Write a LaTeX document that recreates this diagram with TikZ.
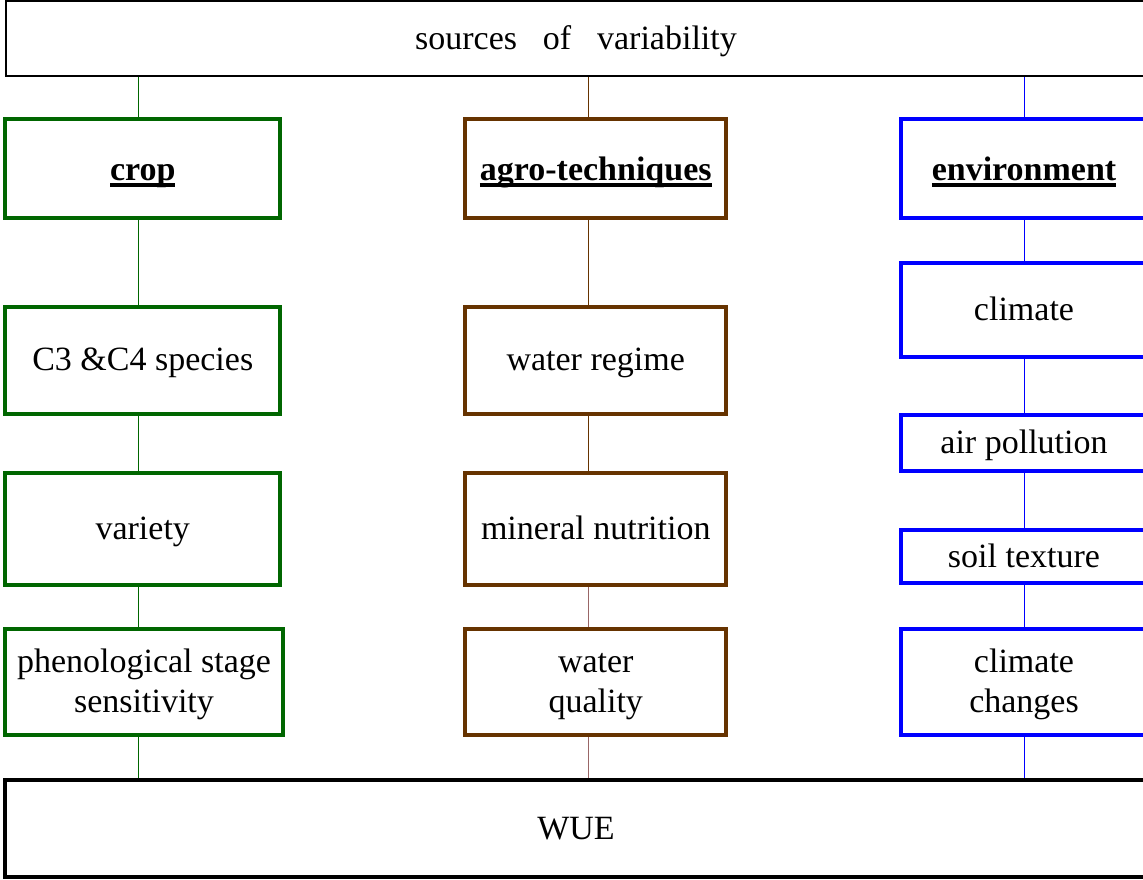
\documentclass[tikz,border=0pt]{standalone}
\usepackage{fontspec}
\setmainfont{Liberation Serif}
\usetikzlibrary{positioning}
\definecolor{srcGreen}{HTML}{006600}
\definecolor{srcBrown}{HTML}{663300}
\definecolor{srcRose}{HTML}{996666}
\definecolor{srcBlue}{HTML}{0000FF}
% bold heading with a heavy underline
\newcommand{\headul}[1]{\setbox0=\hbox{\bfseries #1}\rlap{\rule[-5.2pt]{\wd0}{3pt}}\box0}
% strut for two-line boxes
\newcommand{\bstrut}{\rule[-6.25pt]{0pt}{28.25pt}}

\begin{document}
\begin{tikzpicture}[x=0.75pt,y=-0.75pt,
    every node/.style={font=\fontsize{25.5}{30}\selectfont,inner sep=0pt,align=center,
      text height=22pt,text depth=6.25pt},
    twoline/.style={text height={},text depth={}},
    headline/.style={text height=24pt,text depth=6pt},
    srcbox/.style={draw,line width=3pt,fill=white},
    cropbox/.style={srcbox,draw=srcGreen,minimum width=206.6pt},
    agrobox/.style={srcbox,draw=srcBrown,minimum width=195.4pt},
    envbox/.style={srcbox,draw=srcBlue,minimum width=185.25pt},
    link/.style={line width=0.75pt}]
  \useasboundingbox (0,0) rectangle (1143,879);
  \clip (0,0) rectangle (1143,879);
  % column axes
  \coordinate (cropaxis) at (138.5,0);
  \coordinate (agroaxis) at (588.5,0);
  \coordinate (envaxis) at (1024,0);
  % top and bottom bars
  \node[draw,line width=1.5pt,minimum width=855pt,minimum height=56.6pt] (sources) at (576,38.75)
    {sources\hspace{0.76em}of\hspace{0.76em}variability};
  \node[draw,line width=3pt,minimum width=856.5pt,minimum height=72.5pt] (wue) at (576,828.7) {WUE};
  % crop
  \node[cropbox,headline,minimum height=74.25pt] (crop) at (142.75,168.4) {\headul{crop}};
  \node[cropbox,minimum height=80.25pt] (species) at (142.75,360) {C3 \&C4 species};
  \node[cropbox,minimum height=83.8pt] (variety) at (142.75,528.9) {variety};
  \node[cropbox,twoline,minimum width=208.5pt,minimum height=79.5pt] (stage) at (144,682)
    {\bstrut phenological stage\\sensitivity\bstrut};
  % agro-techniques
  \node[agrobox,headline,minimum height=74.25pt] (agro) at (595.75,168.4) {\headul{agro-techniques}};
  \node[agrobox,minimum height=80.25pt] (regime) at (595.75,360) {water regime};
  \node[agrobox,minimum height=83.8pt] (mineral) at (595.75,528.9) {mineral nutrition};
  \node[agrobox,twoline,minimum height=79.5pt] (quality) at (595.75,682) {\bstrut water\\quality\bstrut};
  % environment
  \node[envbox,headline,minimum height=74.25pt] (env) at (1024,168.4) {\headul{environment}};
  \node[envbox,minimum height=70.5pt] (climate) at (1024,310) {climate};
  \node[envbox,minimum height=42pt] (air) at (1024,442.6) {air pollution};
  \node[envbox,minimum height=39.75pt] (soil) at (1024,556.5) {soil texture};
  \node[envbox,twoline,minimum height=79.5pt] (changes) at (1024,682) {\bstrut climate\\changes\bstrut};
  % links
  \draw[link,srcGreen] (sources.south -| cropaxis) -- (crop.north -| cropaxis);
  \draw[link,srcGreen] (crop.south -| cropaxis) -- (species.north -| cropaxis);
  \draw[link,srcGreen] (species.south -| cropaxis) -- (variety.north -| cropaxis);
  \draw[link,srcGreen] (variety.south -| cropaxis) -- (stage.north -| cropaxis);
  \draw[link,srcGreen] (stage.south -| cropaxis) -- (wue.north -| cropaxis);
  \draw[link,srcBrown] (sources.south -| agroaxis) -- (agro.north -| agroaxis);
  \draw[link,srcBrown] (agro.south -| agroaxis) -- (regime.north -| agroaxis);
  \draw[link,srcBrown] (regime.south -| agroaxis) -- (mineral.north -| agroaxis);
  \draw[link,srcRose] (mineral.south -| agroaxis) -- (quality.north -| agroaxis);
  \draw[link,srcRose] (quality.south -| agroaxis) -- (wue.north -| agroaxis);
  \draw[link,srcBlue] (sources.south -| envaxis) -- (env.north -| envaxis);
  \draw[link,srcBlue] (env.south -| envaxis) -- (climate.north -| envaxis);
  \draw[link,srcBlue] (climate.south -| envaxis) -- (air.north -| envaxis);
  \draw[link,srcBlue] (air.south -| envaxis) -- (soil.north -| envaxis);
  \draw[link,srcBlue] (soil.south -| envaxis) -- (changes.north -| envaxis);
  \draw[link,srcBlue] (changes.south -| envaxis) -- (wue.north -| envaxis);
\end{tikzpicture}
\end{document}
